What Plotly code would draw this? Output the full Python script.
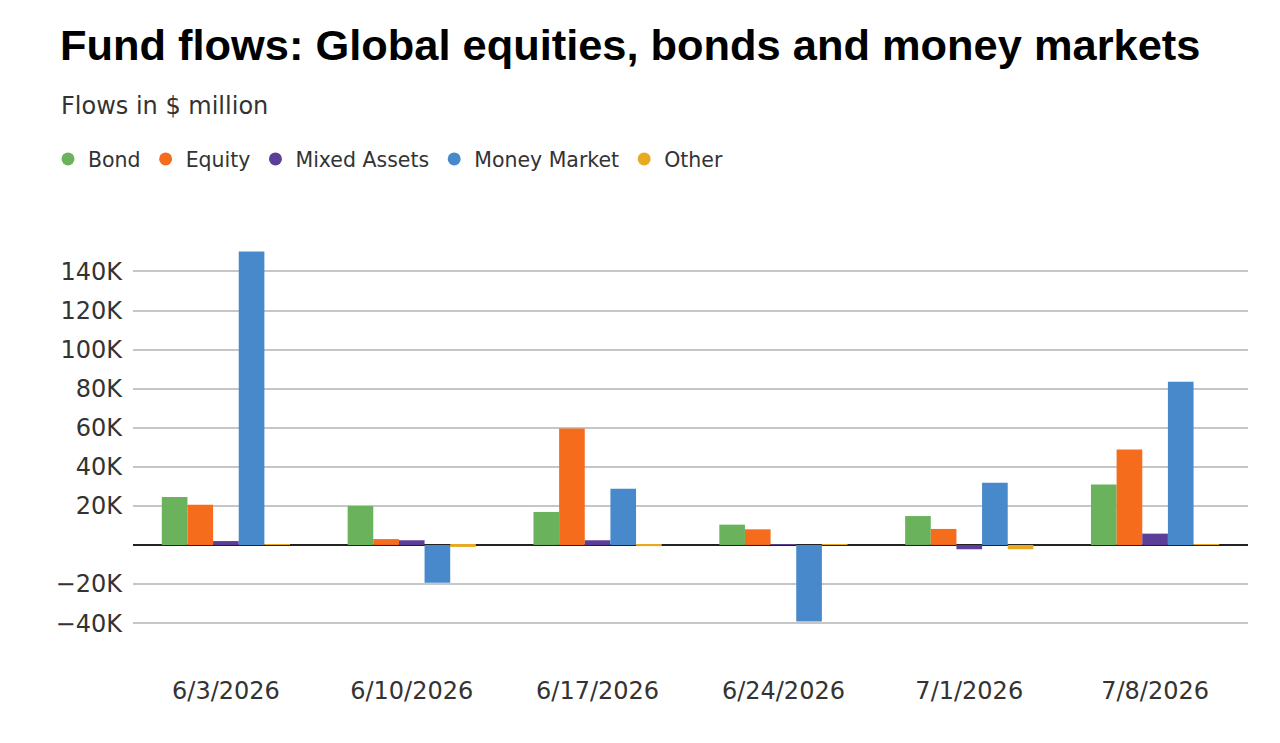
import plotly.graph_objects as go

# Weekly fund flows, $ million
weeks = ["6/3/2026", "6/10/2026", "6/17/2026", "6/24/2026", "7/1/2026", "7/8/2026"]
bond = [24500, 20000, 16900, 10400, 14800, 31000]
equity = [20600, 3000, 59600, 8000, 8200, 48900]
mixed_assets = [2000, 2400, 2400, 300, -2200, 5800]
money_market = [150200, -19300, 28800, -39200, 31800, 83500]
other = [400, -1000, -600, 200, -2200, 300]

series_names = ["Bond", "Equity", "Mixed Assets", "Money Market", "Other"]
colors = ["#6ab35c", "#f46c1c", "#5b3e98", "#4789cb", "#e6a920"]

tick_vals = [-40000, -20000, 0, 20000, 40000, 60000, 80000, 100000, 120000, 140000]
tick_text = ["\u221240K", "\u221220K", "", "20K", "40K", "60K", "80K", "100K", "120K", "140K"]

body_font = "DejaVu Sans, Verdana, sans-serif"

fig = go.Figure()
for name, vals, col in zip(series_names, [bond, equity, mixed_assets, money_market, other], colors):
    fig.add_trace(go.Bar(x=weeks, y=vals, name=name, marker_color=col,
                         marker_line_width=0, showlegend=False))
    # dummy scatter so the legend shows round dots
    fig.add_trace(go.Scatter(x=[None], y=[None], mode="markers", name=name,
                             marker=dict(color=col, size=13, symbol="circle")))

# page body has an 8px margin, so the figure is a bit smaller than the window
fig.update_layout(
    width=1272, height=735,
    paper_bgcolor="white", plot_bgcolor="white",
    font=dict(family=body_font, color="#333333"),
    margin=dict(l=125, r=32, t=240, b=73),
    barmode="group", bargap=0.31, bargroupgap=0,
    title=dict(text="<b>Fund flows: Global equities, bonds and money markets</b>",
               x=52 / 1272, xanchor="left", xref="container",
               y=1 - 37 / 735, yanchor="middle", yref="container",
               font=dict(family="Liberation Sans, Arial, sans-serif",
                         size=43.4, color="#000000")),
    legend=dict(orientation="h", x=-85 / 1115, xanchor="left",
                y=1 + (248 - 159) / 422.5, yanchor="middle",
                font=dict(size=20.5, color="#333333"), itemwidth=30,
                tracegroupgap=0),
    annotations=[dict(text="Flows in $ million", xref="paper", yref="paper",
                      x=-74 / 1115, xanchor="left",
                      y=1 + (248 - 106) / 422.5, yanchor="middle",
                      showarrow=False, font=dict(size=24, color="#333333"))],
)

fig.update_xaxes(showgrid=False, showline=False, ticks="",
                 tickfont=dict(size=24, color="#333333"), ticklabelstandoff=4)
fig.update_yaxes(range=[-64000, 152000], tickvals=tick_vals, ticktext=tick_text,
                 showgrid=True, gridcolor="#c6c6c6", gridwidth=2,
                 zeroline=True, zerolinecolor="#222222", zerolinewidth=2,
                 showline=False, ticks="", ticklabelstandoff=10,
                 tickfont=dict(size=24, color="#333333"))

fig.write_html("out.html")
